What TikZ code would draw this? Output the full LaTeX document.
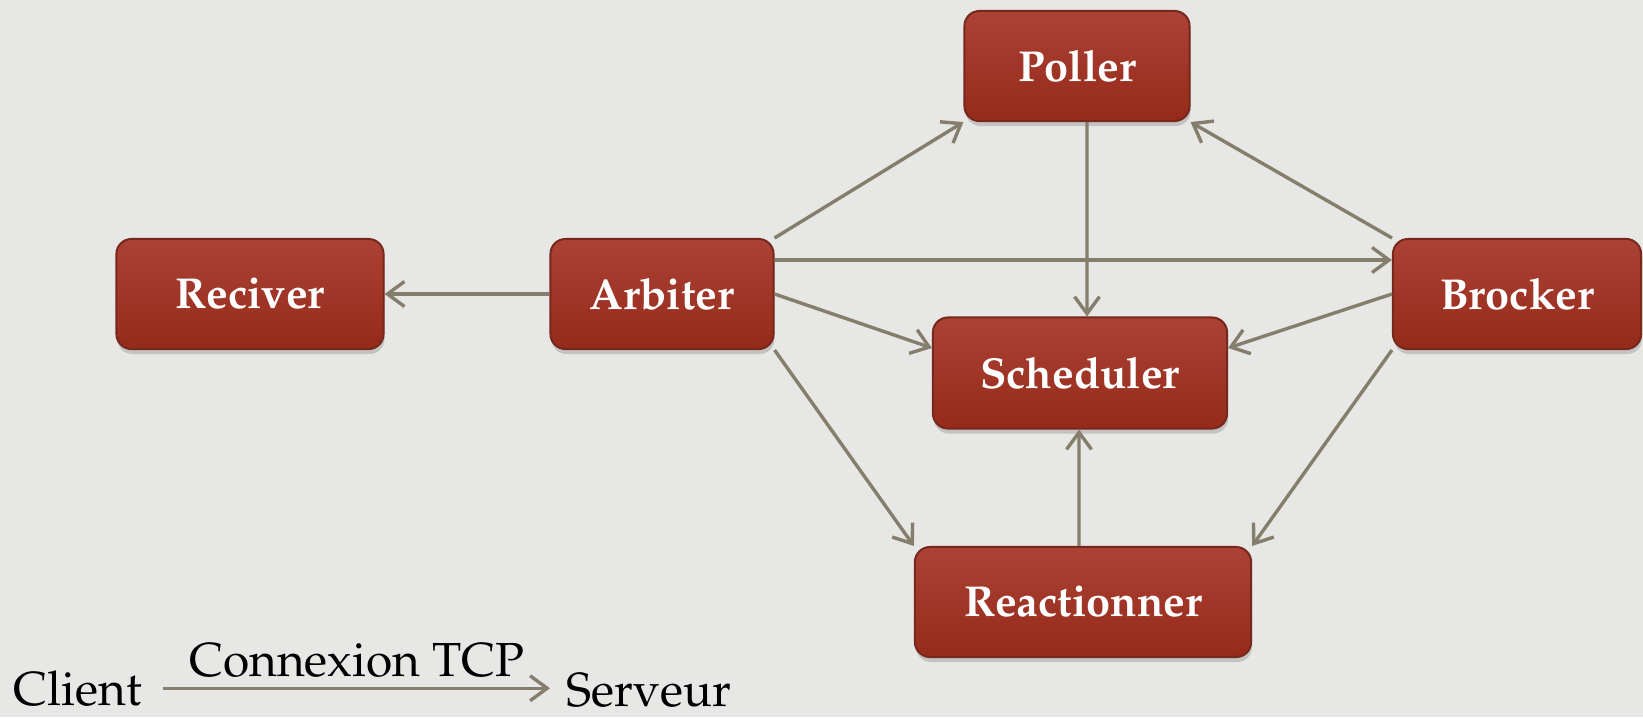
\documentclass[tikz,border=0pt]{standalone}
\usepackage[T1]{fontenc}
\usepackage{mathpazo}
\usetikzlibrary{arrows.meta,shadows}

\definecolor{paper}{RGB}{231,231,229}
\definecolor{boxtop}{RGB}{171,66,53}
\definecolor{boxbot}{RGB}{150,42,26}
\definecolor{boxline}{RGB}{118,40,28}
\definecolor{wire}{RGB}{134,126,108}

\begin{document}
\begin{tikzpicture}[x=0.01cm,y=-0.01cm,
    box/.style={draw=boxline,line width=0.02cm,rounded corners=0.15cm,
      top color=boxtop,bottom color=boxbot,text=white,inner sep=0pt,
      font=\fontsize{12.3}{14}\selectfont\bfseries,minimum height=1.1cm,
      drop shadow={shadow xshift=0.01cm,shadow yshift=-0.05cm,opacity=0.35}},
    link/.style={draw=wire,line width=0.034cm,-{Straight Barb[length=0.17cm,width=0.25cm]}},
    legend/.style={font=\fontsize{13.6}{16}\selectfont,inner sep=0pt}]

                \fill[paper] (0,0) rectangle (1643,717);

                \node[box,minimum width=2.25cm] (P) at (1077,66) {Poller};
                \node[box,minimum width=2.67cm] (R) at (250,294) {Reciver};
                \node[box,minimum width=2.23cm] (A) at (662,294) {Arbiter};
                \node[box,minimum width=2.48cm] (B) at (1517,294) {Brocker};
                \node[box,minimum width=2.94cm,minimum height=1.11cm] (S) at (1080,373) {Scheduler};
                \node[box,minimum width=3.36cm] (X) at (1083,602) {Reactionner};

                \draw[link] (A) -- (R);
                \draw[link] (A.north east) -- (P.south west);
                \draw[link] ([yshift=0.34cm]A.east) -- ([yshift=0.34cm]B.west);
                \draw[link] (A.east) -- ([yshift=0.25cm]S.west);
                \draw[link] (A.south east) -- (X.north west);

                \draw[link] ([xshift=0.1cm]P.south) -- ([xshift=0.07cm]S.north);

                \draw[link] (B.north west) -- (P.south east);
                \draw[link] (B.west) -- ([yshift=0.25cm]S.east);
                \draw[link] (B.south west) -- (X.north east);

                \draw[link] ([xshift=-0.04cm]X.north) -- ([xshift=-0.01cm]S.south);

                % legend
                \node[legend,anchor=base west] (cl) at (13,705) {Client};
                \node[legend,anchor=base west] (sv) at (566,706) {Serveur};
                \draw[link] ([xshift=0.21cm]cl.east) -- node[legend,above=0.09cm] {Connexion TCP} ([xshift=-0.16cm]cl.east -| sv.west);
\end{tikzpicture}
\end{document}
